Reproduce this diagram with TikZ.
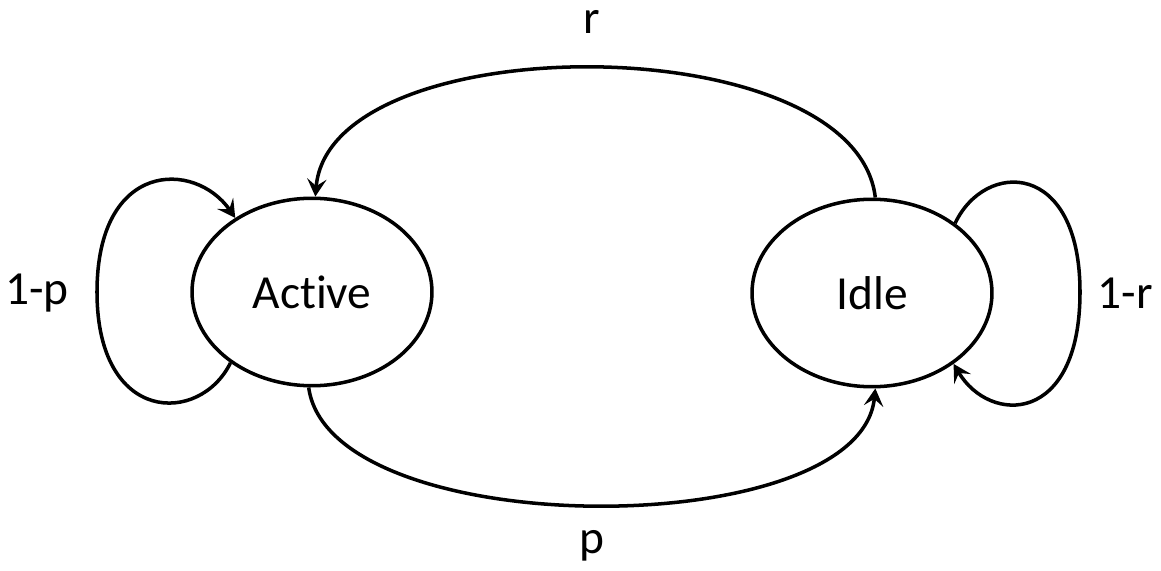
\documentclass[tikz,border=0pt]{standalone}
\usepackage{fontspec}
\setmainfont[Ligatures=NoCommon]{Carlito}
\usetikzlibrary{shapes.geometric, arrows.meta, positioning}
\tikzstyle{state} = [ellipse, draw=black, line width=2pt, minimum width=4.8cm, minimum height=3.75cm, font=\fontsize{27}{31}\selectfont]
\tikzstyle{arrow} = [line width=2pt, -{Stealth[length=10pt, width=11pt, inset=4pt]}]
\tikzstyle{lbl} = [font=\fontsize{27}{31}\selectfont]

\begin{document}
\begin{tikzpicture}[x=0.02cm, y=-0.02cm]
    \useasboundingbox (0,0) rectangle (1161,571);

    % States
    \node[state] (active) at (312,292) {Active};
    \node[state] (idle) at (872,293) {Idle};

    % Transitions between states
    \draw[arrow] (idle.88) .. controls (855,25) and (330,25) .. (active.88);
    \draw[arrow] (active.268) .. controls (330,544) and (860,544) .. (idle.272);

    % Self loops
    \draw[arrow] (active.221) .. controls (200,425) and (97,425) .. (97,292)
        .. controls (97,160) and (195,160) .. (active.136);
    \draw[arrow] (idle.40) .. controls (985,160) and (1080,160) .. (1080,292)
        .. controls (1080,425) and (990,425) .. (idle.-41);

    % Labels
    \node[lbl] (lr) at (592,22) {r};
    \node[lbl] (lp) at (592,546) {p};
    \node[lbl] (lnp) at (37,293) {1-p};
    \node[lbl] (lnr) at (1125,293) {1-r};
\end{tikzpicture}
\end{document}
